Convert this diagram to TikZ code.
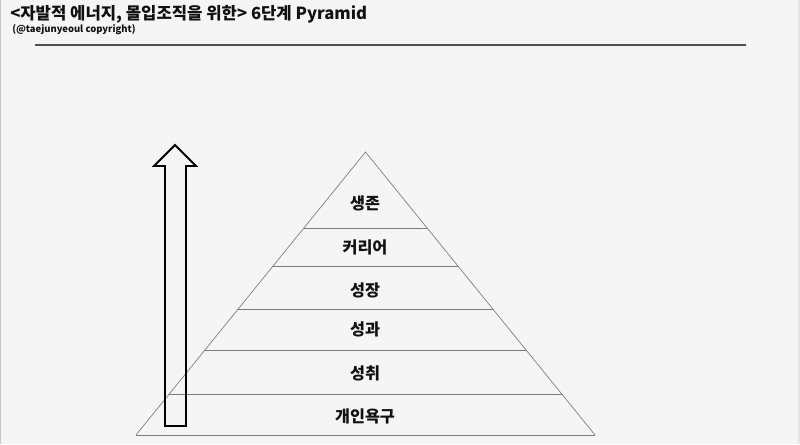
\documentclass[tikz,border=0pt]{standalone}
\usepackage{fontspec}
\setmainfont{Noto Sans CJK KR}
\usepackage{tikz}
\usetikzlibrary{positioning,calc}
\usepackage{xcolor}
\definecolor{paper}{HTML}{F5F5F5}
\definecolor{ink}{HTML}{111111}
\definecolor{rule}{HTML}{505050}
\definecolor{tier}{HTML}{7A7A7A}
\definecolor{frame}{HTML}{C8C8C8}
\tikzset{
  every node/.style={text=ink,inner sep=0pt},
  title/.style={font=\fontsize{12.5}{15}\selectfont\bfseries,anchor=west},
  credit/.style={font=\fontsize{7.1}{8}\selectfont\bfseries,anchor=west},
  tierlabel/.style={font=\fontsize{12.2}{14}\selectfont\bfseries},
  tierline/.style={draw=tier,line width=0.6pt},
  edgeline/.style={draw=tier,line width=0.5pt},
  blockarrow/.style={draw=black,line width=1.4pt,line join=miter},
}

\begin{document}
\begin{tikzpicture}[x=0.75pt,y=-0.75pt]
  \useasboundingbox[fill=paper] (0,0) rectangle (800,444);
  \draw[frame,line width=1pt] (0.5,0) -- (0.5,444);
  \fill[black!10] (798,0) rectangle (800,444);

  % heading
  \node[title] (head) at (10,14) {<자발적 에너지, 몰입조직을 위한> 6단계 Pyramid};
  \node[credit] (copy) at (12,30) {(@taejunyeoul copyright)};
  \coordinate (ruleL) at (35,45);
  \coordinate (ruleR) at (746,45);
  \draw[rule,line width=1.1pt] (ruleL) -- (ruleR);

  % pyramid
  \coordinate (apex) at (365.5,152);
  \coordinate (baseL) at (136,435);
  \coordinate (baseR) at (595,435);
  \draw[edgeline] (baseL) -- (apex) -- (baseR);
  \draw[tierline] (baseL) -- (baseR);
  \foreach \y in {228,266,309,350,394} {
    \draw[tierline] ($(apex)!{(\y-152)/283}!(baseL)$) -- ($(apex)!{(\y-152)/283}!(baseR)$);
  }

  \node[tierlabel] (survive) at (365,203) {생존};
  \node[tierlabel] (career) at (365,247) {커리어};
  \node[tierlabel] (growth) at (365,290) {성장};
  \node[tierlabel] (result) at (365,329) {성과};
  \node[tierlabel] (achieve) at (365,373) {성취};
  \node[tierlabel] (needs) at (365,416) {개인욕구};

  % upward arrow
  \draw[blockarrow] (165,426) -- (165,166) -- (154,166) -- (175,145)
    -- (196,166) -- (186,166) -- (186,426) -- cycle;
\end{tikzpicture}
\end{document}
